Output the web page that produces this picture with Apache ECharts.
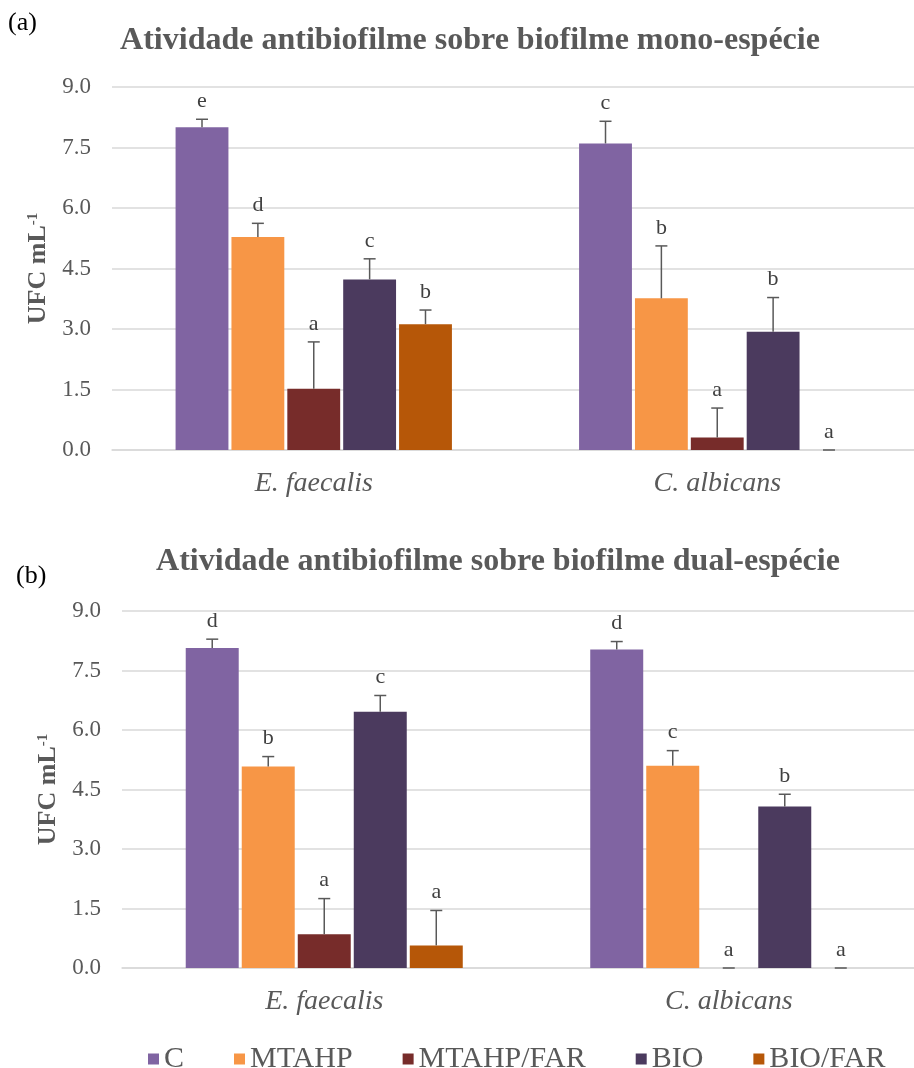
<!DOCTYPE html>
<html>
<head>
<meta charset="utf-8">
<style>
  html, body { margin: 0; padding: 0; background: #fff; }
  #chart { width: 914px; height: 1068px; }
</style>
<script src="https://cdn.jsdelivr.net/npm/echarts@6/dist/echarts.min.js"></script>
</head>
<body>
<div id="chart"></div>
<script>
// ---- Data ----
const categories = ['E. faecalis', 'C. albicans'];
const seriesNames = ['C', 'MTAHP', 'MTAHP/FAR', 'BIO', 'BIO/FAR'];
const seriesColors = ['#8064A2', '#F79646', '#772C2A', '#4B3A5E', '#B65708'];
const yTicks = [0, 1.5, 3.0, 4.5, 6.0, 7.5, 9.0];

// (a) mono-species biofilm: [E. faecalis, C. albicans]
const monoC = [8.00, 7.60];
const monoMTAHP = [5.28, 3.76];
const monoMTAHPFAR = [1.52, 0.31];
const monoBIO = [4.23, 2.93];
const monoBIOFAR = [3.12, 0.00];
const monoErrC = [0.20, 0.55];
const monoErrMTAHP = [0.34, 1.30];
const monoErrMTAHPFAR = [1.16, 0.73];
const monoErrBIO = [0.51, 0.85];
const monoErrBIOFAR = [0.35, 0.00];
const monoLetC = ['e', 'c'];
const monoLetMTAHP = ['d', 'b'];
const monoLetMTAHPFAR = ['a', 'a'];
const monoLetBIO = ['c', 'b'];
const monoLetBIOFAR = ['b', 'a'];

// (b) dual-species biofilm
const dualC = [8.07, 8.03];
const dualMTAHP = [5.08, 5.10];
const dualMTAHPFAR = [0.85, 0.00];
const dualBIO = [6.46, 4.07];
const dualBIOFAR = [0.57, 0.00];
const dualErrC = [0.22, 0.20];
const dualErrMTAHP = [0.25, 0.38];
const dualErrMTAHPFAR = [0.90, 0.00];
const dualErrBIO = [0.41, 0.31];
const dualErrBIOFAR = [0.88, 0.00];
const dualLetC = ['d', 'd'];
const dualLetMTAHP = ['b', 'c'];
const dualLetMTAHPFAR = ['a', 'a'];
const dualLetBIO = ['c', 'b'];
const dualLetBIOFAR = ['a', 'a'];

const monoMeans = [monoC, monoMTAHP, monoMTAHPFAR, monoBIO, monoBIOFAR];
const monoErrs = [monoErrC, monoErrMTAHP, monoErrMTAHPFAR, monoErrBIO, monoErrBIOFAR];
const monoLets = [monoLetC, monoLetMTAHP, monoLetMTAHPFAR, monoLetBIO, monoLetBIOFAR];
const dualMeans = [dualC, dualMTAHP, dualMTAHPFAR, dualBIO, dualBIOFAR];
const dualErrs = [dualErrC, dualErrMTAHP, dualErrMTAHPFAR, dualErrBIO, dualErrBIOFAR];
const dualLets = [dualLetC, dualLetMTAHP, dualLetMTAHPFAR, dualLetBIO, dualLetBIOFAR];

// ---- Styling ----
const SERIF = '"Liberation Serif", "Times New Roman", serif';
const GRAY = '#595959';
const BAR_W = 0.131;   // fraction of category band
const BAR_GAP = 0.057; // fraction of bar width

function errItems(means, errs, lets) {
  const items = [];
  means.forEach((arr, si) => arr.forEach((m, ci) => {
    items.push({ value: [ci, si, m, errs[si][ci]], letter: lets[si][ci] });
  }));
  return items;
}

function errSeries(idx, means, errs, lets) {
  const items = errItems(means, errs, lets);
  return {
    type: 'custom', xAxisIndex: idx, yAxisIndex: idx, silent: true, z: 5,
    encode: { x: 0, y: 2 },
    data: items.map(d => d.value),
    renderItem: function (params, api) {
      const ci = api.value(0), si = api.value(1), m = api.value(2), e = api.value(3);
      const base = api.coord([ci, m]);
      const top = api.coord([ci, m + e]);
      const band = api.size([1, 0])[0];
      const bw = band * BAR_W, gap = bw * BAR_GAP;
      const x = base[0] + (si - (seriesNames.length - 1) / 2) * (bw + gap);
      const stroke = { stroke: GRAY, lineWidth: 1.5 };
      return {
        type: 'group',
        children: [
          { type: 'line', shape: { x1: x, y1: base[1], x2: x, y2: top[1] }, style: stroke },
          { type: 'line', shape: { x1: x - 6, y1: top[1], x2: x + 6, y2: top[1] }, style: stroke },
          { type: 'text', style: {
              x: x, y: top[1] - 7, text: items[params.dataIndex].letter,
              textAlign: 'center', textVerticalAlign: 'bottom',
              font: '22px ' + SERIF, fill: '#404040' } }
        ]
      };
    }
  };
}

function barSeries(idx, means) {
  return means.map((arr, si) => ({
    name: seriesNames[si], type: 'bar', xAxisIndex: idx, yAxisIndex: idx,
    data: arr, barWidth: (BAR_W * 100) + '%', barGap: (BAR_GAP * 100) + '%',
    itemStyle: { color: seriesColors[si] }
  }));
}

const yAxisCommon = {
  type: 'value', min: 0, max: 9, interval: 1.5,
  axisLine: { show: false }, axisTick: { show: false },
  axisLabel: { color: GRAY, fontFamily: SERIF, fontSize: 23, margin: 21,
    formatter: v => v.toFixed(1) },
  splitLine: { lineStyle: { color: '#D9D9D9', width: 1.5 } },
  name: '{n|UFC mL}{s|-1}', nameLocation: 'middle', nameRotate: 90,
  nameTextStyle: { rich: {
    n: { fontFamily: SERIF, fontWeight: 'bold', fontSize: 26, color: GRAY },
    s: { fontFamily: SERIF, fontWeight: 'bold', fontSize: 15, color: GRAY, verticalAlign: 'top' }
  } }
};
const xAxisCommon = {
  type: 'category', data: categories,
  axisLine: { show: true, lineStyle: { color: '#D9D9D9', width: 1.5 } },
  axisTick: { show: false },
  axisLabel: { color: GRAY, fontFamily: SERIF, fontSize: 28, fontStyle: 'italic', margin: 20 }
};

const option = {
  animation: false,
  backgroundColor: '#fff',
  grid: [
    { left: 112, top: 87, width: 807, height: 363, outerBoundsMode: 'none', containLabel: false },
    { left: 122, top: 611, width: 809, height: 357, outerBoundsMode: 'none', containLabel: false }
  ],
  xAxis: [ Object.assign({ gridIndex: 0 }, xAxisCommon), Object.assign({ gridIndex: 1 }, xAxisCommon) ],
  yAxis: [ Object.assign({ gridIndex: 0, nameGap: 60 }, yAxisCommon), Object.assign({ gridIndex: 1, nameGap: 60 }, yAxisCommon) ],
  legend: {
    data: seriesNames, left: 143, top: 1039, icon: 'rect', itemWidth: 11, itemHeight: 11,
    itemGap: 50, textStyle: { color: GRAY, fontFamily: SERIF, fontSize: 30 }
  },
  graphic: [
    { type: 'text', left: 8, top: 10, style: { text: '(a)', font: '26px ' + SERIF, fill: '#000' } },
    { type: 'text', left: 16, top: 563, style: { text: '(b)', font: '26px ' + SERIF, fill: '#000' } },
    { type: 'text', style: { x: 470, y: 41, text: 'Atividade antibiofilme sobre biofilme mono-espécie',
        textAlign: 'center', textVerticalAlign: 'middle', font: 'bold 32px ' + SERIF, fill: GRAY } },
    { type: 'text', style: { x: 498, y: 562, text: 'Atividade antibiofilme sobre biofilme dual-espécie',
        textAlign: 'center', textVerticalAlign: 'middle', font: 'bold 32px ' + SERIF, fill: GRAY } }
  ],
  series: [].concat(
    barSeries(0, monoMeans), [errSeries(0, monoMeans, monoErrs, monoLets)],
    barSeries(1, dualMeans), [errSeries(1, dualMeans, dualErrs, dualLets)]
  )
};

const chart = echarts.init(document.getElementById('chart'));
chart.setOption(option);
</script>
</body>
</html>
